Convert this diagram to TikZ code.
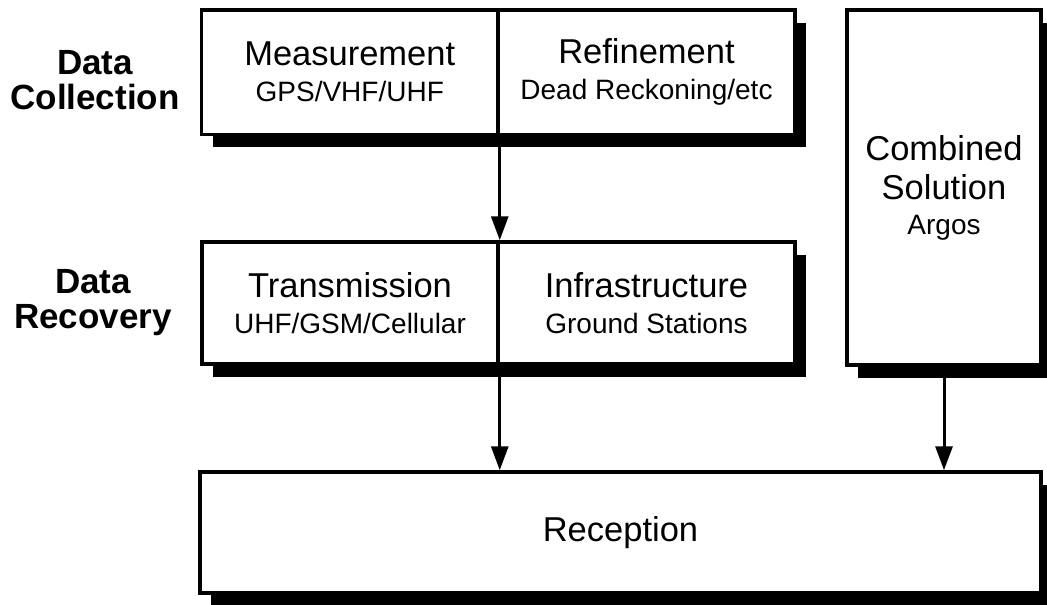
\documentclass[tikz,border=0pt]{standalone}
\usepackage{fontspec}
\setmainfont{Liberation Sans}
\usetikzlibrary{arrows.meta,shadows}
\newcommand{\mainsz}{\fontsize{34.5}{36}\selectfont}
\newcommand{\subsz}{\fontsize{28}{36}\selectfont}
\begin{document}
\begin{tikzpicture}[x=1pt,y=-1pt,
  box/.style={draw=black, line width=3.5pt, fill=white, inner sep=0pt, align=center,
    font=\fontsize{34.5}{36}\selectfont,
    drop shadow={shadow xshift=11pt, shadow yshift=-13pt, fill=black, opacity=1}},
  arr/.style={line width=3pt, -{Triangle[length=24pt,width=17pt]}},
  lab/.style={font=\bfseries\fontsize{35}{35}\selectfont, align=center}]
\useasboundingbox (0,0) rectangle (1047,605);
% right column and bottom row
\node[box, minimum width=194pt, minimum height=355pt] (comb) at (944,187.5)
  {\mainsz Combined\\[3pt]\mainsz Solution\\[-1pt]\subsz Argos};
\node[box, minimum width=841pt, minimum height=121pt] (recep) at (620.5,532.5)
  {\mainsz Reception};
% top row
\node[box, minimum width=296.5pt, minimum height=124.5pt] (meas) at (349.75,72)
  {\mainsz Measurement\\\subsz GPS/VHF/UHF};
\node[box, minimum width=297pt, minimum height=124.5pt] (refi) at (646.5,72)
  {\mainsz Refinement\\\subsz Dead Reckoning/etc};
% middle row
\node[box, minimum width=296pt, minimum height=122pt] (trans) at (350,303)
  {\mainsz Transmission\\\subsz UHF/GSM/Cellular};
\node[box, minimum width=297pt, minimum height=122pt] (infra) at (646.5,303)
  {\mainsz Infrastructure\\\subsz Ground Stations};
% labels
\node[lab] (dc) at (95,80) {Data\\Collection};
\node[lab] (dr) at (93,303) {Data\\Recovery};
% arrows
\draw[arr] (meas.south east) -- (trans.north east);
\draw[arr] (trans.south east) -- (trans.south east |- recep.north);
\draw[arr] (comb.south) -- (comb.south |- recep.north);
\end{tikzpicture}
\end{document}
